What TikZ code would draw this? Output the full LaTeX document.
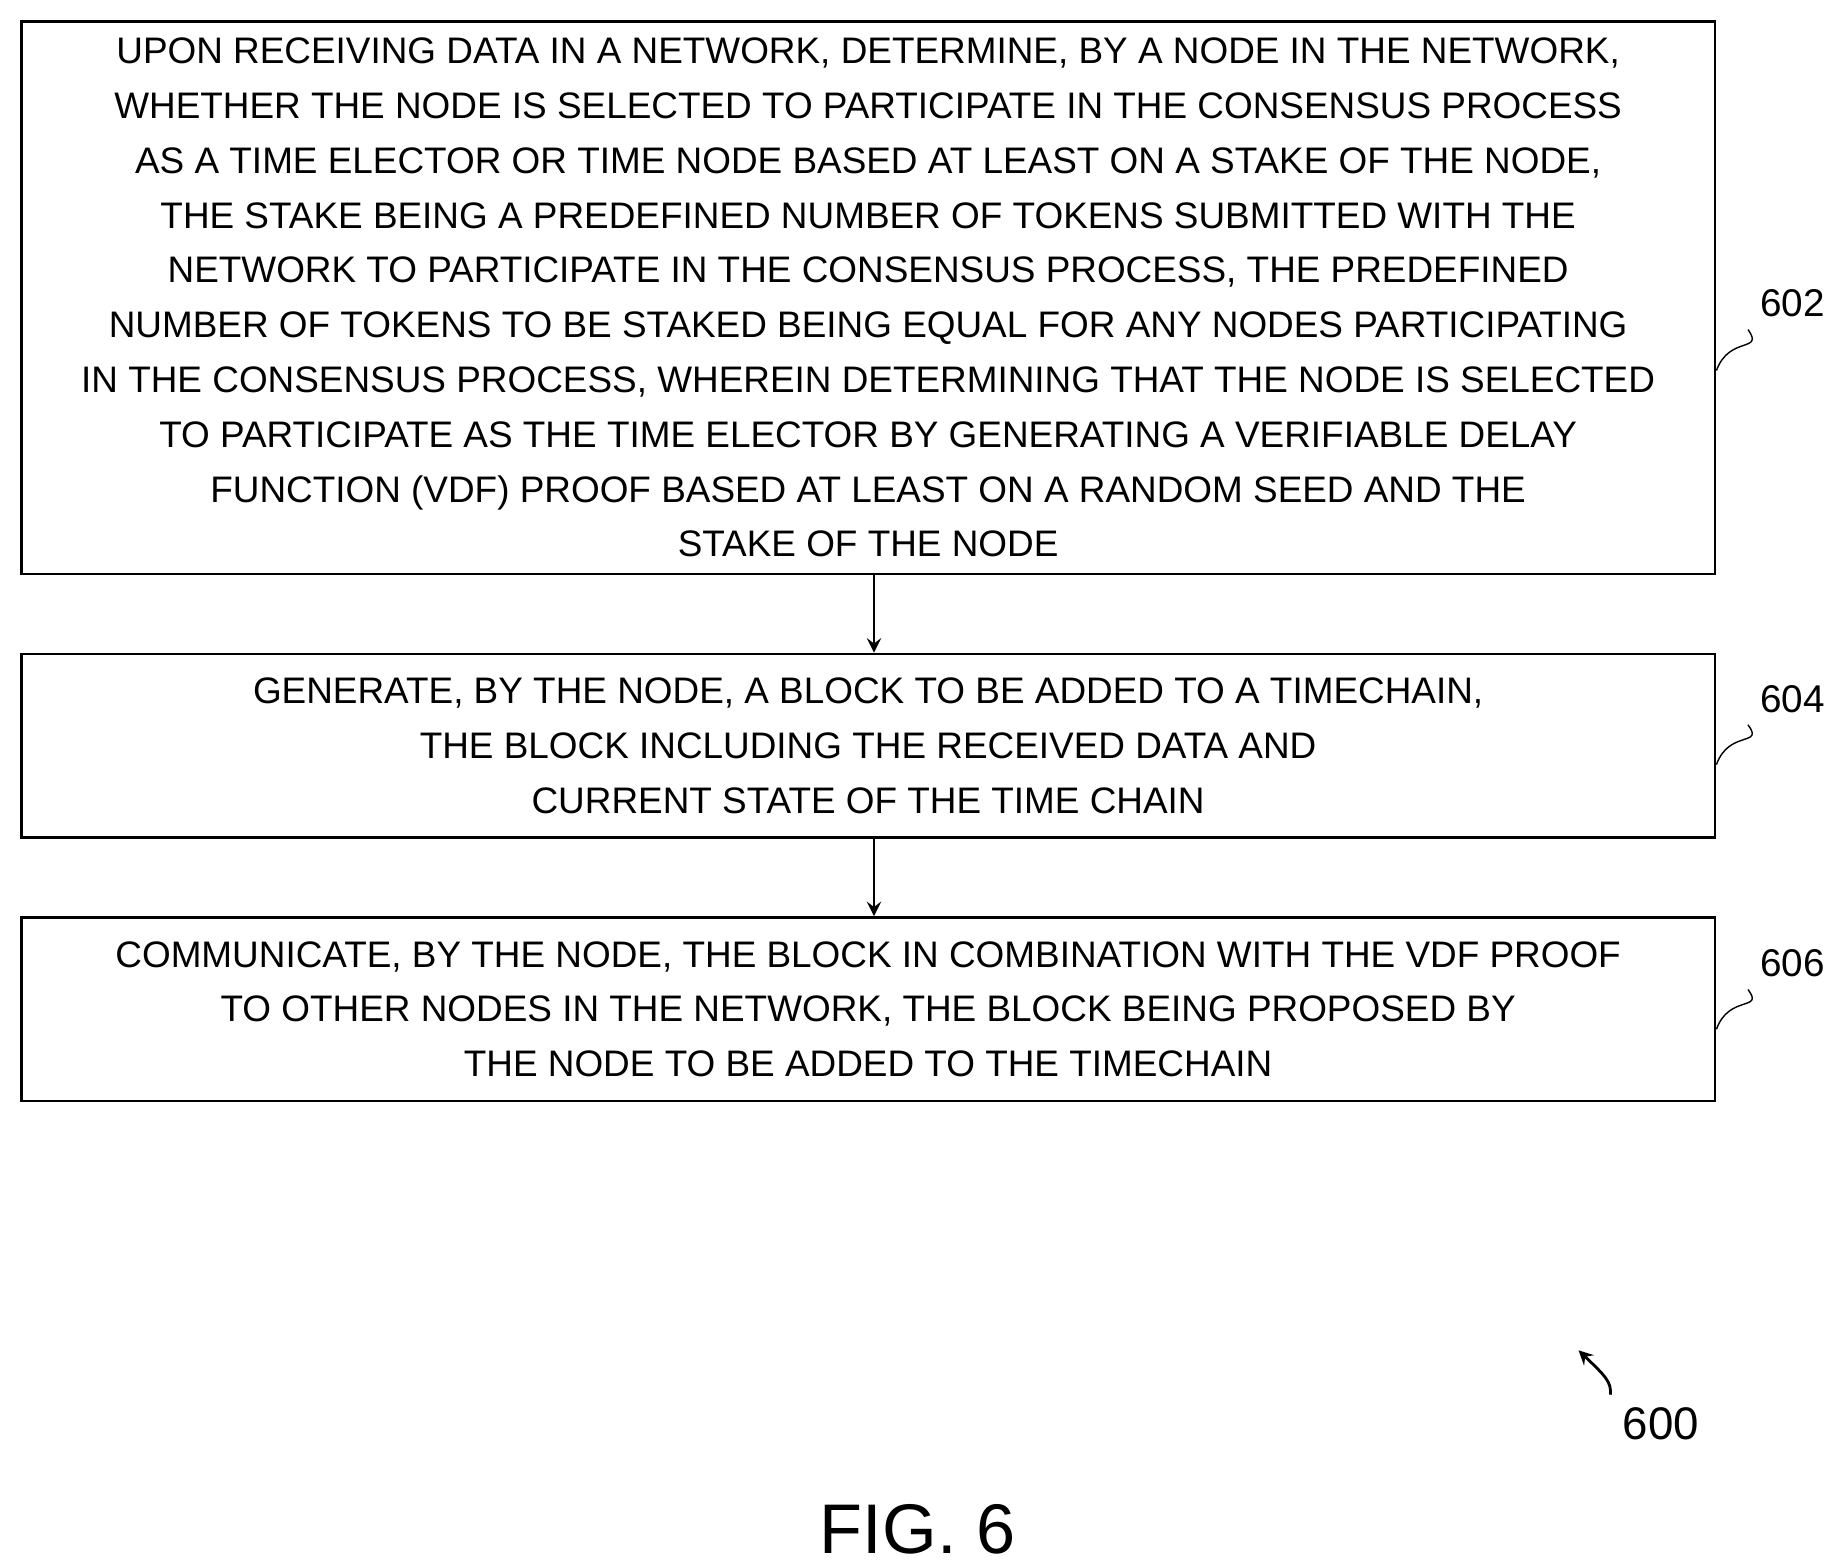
\documentclass[tikz,border=0pt]{standalone}
\usepackage{fontspec}
\setmainfont{Liberation Sans}
\usetikzlibrary{positioning}
\tikzset{
  stepbox/.style={draw,thick,minimum width=1440*0.01176cm,align=center,
    font=\fontsize{10.5}{15.6}\selectfont},
  ref/.style={font=\fontsize{11}{13}\selectfont},
}
\begin{document}
\begin{tikzpicture}[x=0.01176cm,y=-0.01176cm,>=stealth]
        \useasboundingbox (0,0) rectangle (1560,1333);

        \node[stepbox,minimum height=470*0.01176cm] (s602) at (738,253) {UPON RECEIVING DATA IN A NETWORK, DETERMINE, BY A NODE IN THE NETWORK,\\
WHETHER THE NODE IS SELECTED TO PARTICIPATE IN THE CONSENSUS PROCESS\\
AS A TIME ELECTOR OR TIME NODE BASED AT LEAST ON A STAKE OF THE NODE,\\
THE STAKE BEING A PREDEFINED NUMBER OF TOKENS SUBMITTED WITH THE\\
NETWORK TO PARTICIPATE IN THE CONSENSUS PROCESS, THE PREDEFINED\\
NUMBER OF TOKENS TO BE STAKED BEING EQUAL FOR ANY NODES PARTICIPATING\\
IN THE CONSENSUS PROCESS, WHEREIN DETERMINING THAT THE NODE IS SELECTED\\
TO PARTICIPATE AS THE TIME ELECTOR BY GENERATING A VERIFIABLE DELAY\\
FUNCTION (VDF) PROOF BASED AT LEAST ON A RANDOM SEED AND THE\\
STAKE OF THE NODE};
        \node[stepbox,minimum height=156*0.01176cm] (s604) at (738,634) {GENERATE, BY THE NODE, A BLOCK TO BE ADDED TO A TIMECHAIN,\\
THE BLOCK INCLUDING THE RECEIVED DATA AND\\
CURRENT STATE OF THE TIME CHAIN};
        \node[stepbox,minimum height=156*0.01176cm] (s606) at (738,858) {COMMUNICATE, BY THE NODE, THE BLOCK IN COMBINATION WITH THE VDF PROOF\\
TO OTHER NODES IN THE NETWORK, THE BLOCK BEING PROPOSED BY\\
THE NODE TO BE ADDED TO THE TIMECHAIN};

        \draw[thick,->] (s602.south -| 743,0) -- (s604.north -| 743,0);
        \draw[thick,->] (s604.south -| 743,0) -- (s606.north -| 743,0);

        % reference numerals
        \node[ref] (n602) at (1524,258) {602};
        \node[ref] (n604) at (1524,594) {604};
        \node[ref] (n606) at (1524,819) {606};
        \draw (s602.east |- 0,315) .. controls (1470,285) and (1500,300) .. (n602.south west);
        \draw (s604.east |- 0,650) .. controls (1470,620) and (1500,635) .. (n604.south west);
        \draw (s606.east |- 0,875) .. controls (1470,845) and (1500,860) .. (n606.south west);

        \node[font=\fontsize{13}{15}\selectfont] (n600) at (1412,1210) {600};
        \coordinate (a600) at (1342,1148);
        \draw[thick,->] (n600.north west) .. controls (1370,1175) and (1365,1170) .. (a600);

        \node[font=\fontsize{20}{24}\selectfont] (fig) at (780,1300) {FIG. 6};
      \end{tikzpicture}
\end{document}
